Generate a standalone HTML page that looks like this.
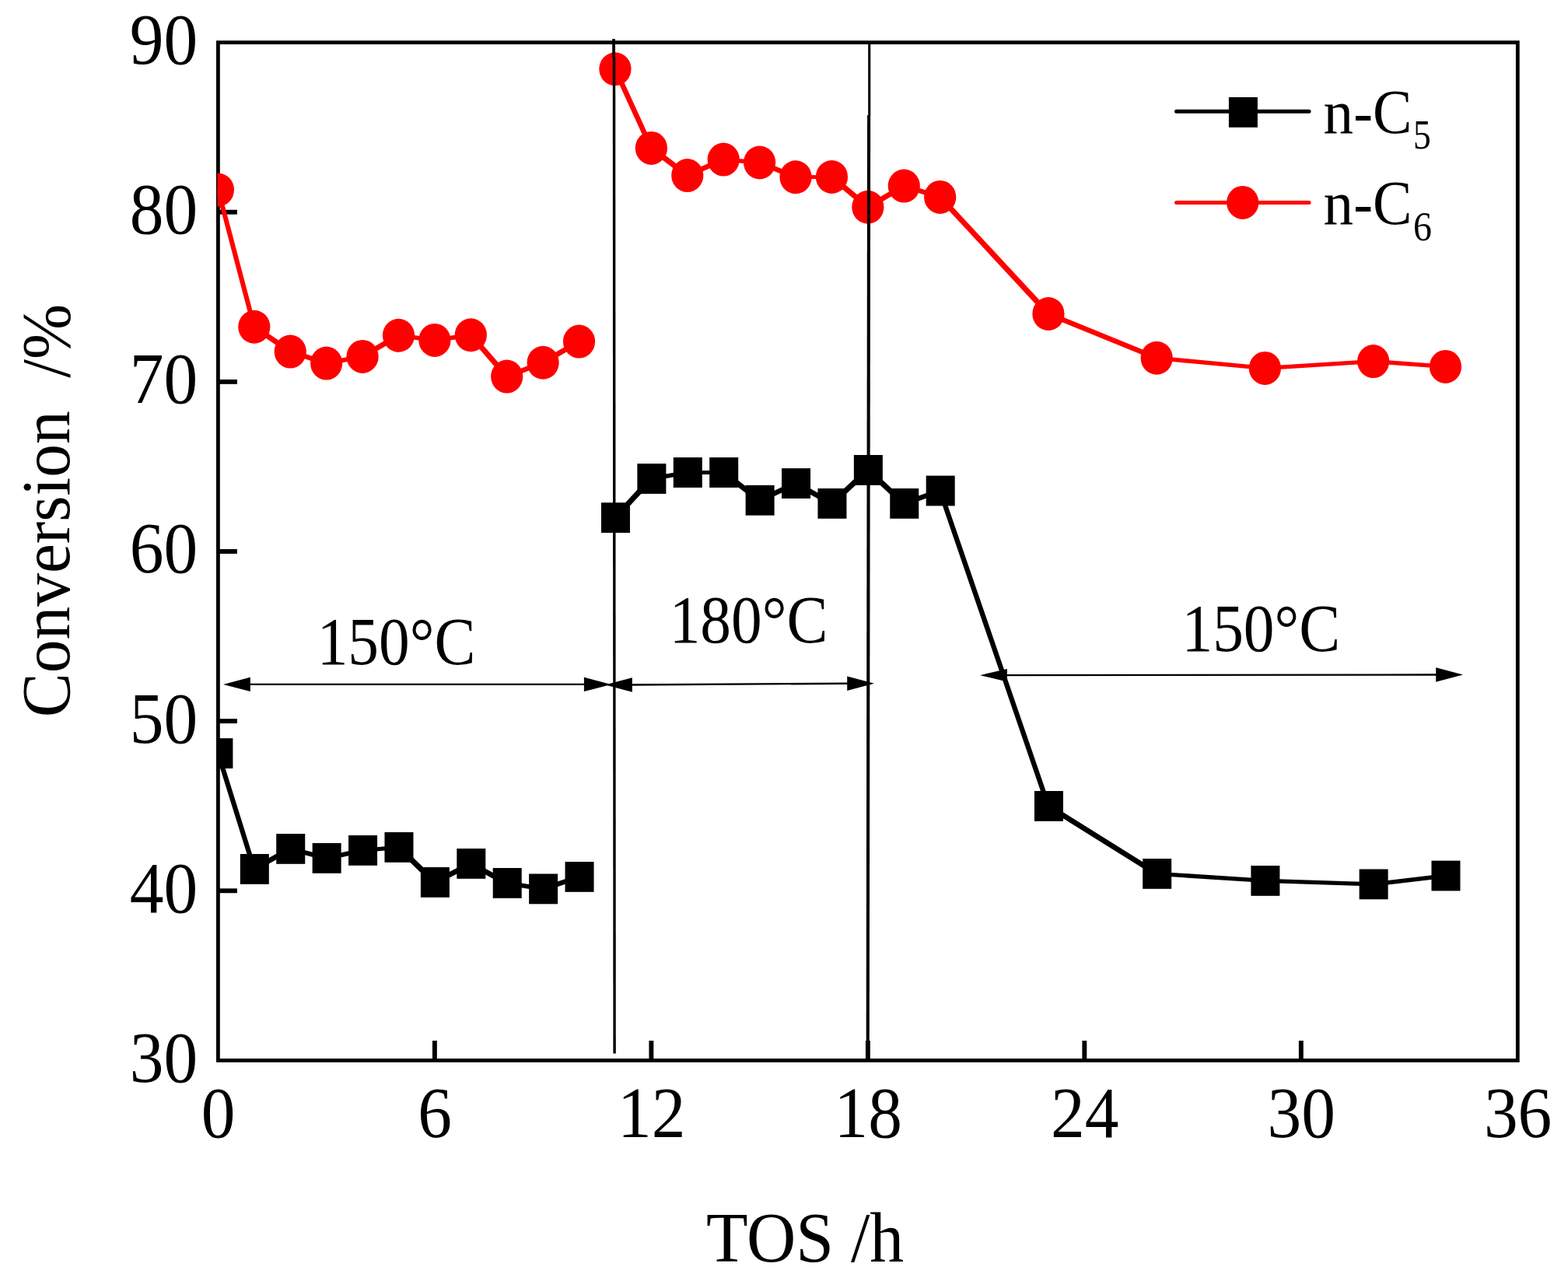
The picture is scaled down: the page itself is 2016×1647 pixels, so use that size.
<!DOCTYPE html>
<html lang="en"><head><meta charset="utf-8"><title>Conversion vs TOS</title>
<style>html,body{margin:0;padding:0;background:#fff;}body{width:2016px;height:1647px;overflow:hidden;}svg{display:block;}text{font-family:"Liberation Serif",serif;fill:#000;white-space:pre;}</style></head><body>
<svg width="2016" height="1647" viewBox="0 0 2016 1647">
<rect x="0" y="0" width="2016" height="1647" fill="#ffffff"/>
<defs><clipPath id="pc"><rect x="279.5" y="50" width="1675" height="1316"/></clipPath></defs>
<rect x="280.4" y="54.6" width="1670.90" height="1308.80" fill="none" stroke="#000" stroke-width="4.8"/>
<line x1="558.88" y1="1363.4" x2="558.88" y2="1338.00" stroke="#000" stroke-width="5.9"/>
<line x1="837.37" y1="1363.4" x2="837.37" y2="1338.00" stroke="#000" stroke-width="5.9"/>
<line x1="1115.85" y1="1363.4" x2="1115.85" y2="1338.00" stroke="#000" stroke-width="5.9"/>
<line x1="1394.33" y1="1363.4" x2="1394.33" y2="1338.00" stroke="#000" stroke-width="5.9"/>
<line x1="1672.82" y1="1363.4" x2="1672.82" y2="1338.00" stroke="#000" stroke-width="5.9"/>
<line x1="280.4" y1="1145.27" x2="304.90" y2="1145.27" stroke="#000" stroke-width="5.9"/>
<line x1="280.4" y1="927.13" x2="304.90" y2="927.13" stroke="#000" stroke-width="5.9"/>
<line x1="280.4" y1="709.00" x2="304.90" y2="709.00" stroke="#000" stroke-width="5.9"/>
<line x1="280.4" y1="490.87" x2="304.90" y2="490.87" stroke="#000" stroke-width="5.9"/>
<line x1="280.4" y1="272.73" x2="304.90" y2="272.73" stroke="#000" stroke-width="5.9"/>
<g clip-path="url(#pc)">
<line x1="280.40" y1="968.60" x2="326.81" y2="1117.40" stroke="#000" stroke-width="6.26" stroke-linecap="round"/>
<line x1="326.81" y1="1117.40" x2="373.23" y2="1091.40" stroke="#000" stroke-width="6.81" stroke-linecap="round"/>
<line x1="373.23" y1="1091.40" x2="419.64" y2="1103.40" stroke="#000" stroke-width="6.09" stroke-linecap="round"/>
<line x1="419.64" y1="1103.40" x2="466.06" y2="1093.40" stroke="#000" stroke-width="5.94" stroke-linecap="round"/>
<line x1="466.06" y1="1093.40" x2="512.47" y2="1089.40" stroke="#000" stroke-width="5.41" stroke-linecap="round"/>
<line x1="512.47" y1="1089.40" x2="558.88" y2="1134.40" stroke="#000" stroke-width="7.07" stroke-linecap="round"/>
<line x1="558.88" y1="1134.40" x2="605.30" y2="1110.40" stroke="#000" stroke-width="6.74" stroke-linecap="round"/>
<line x1="605.30" y1="1110.40" x2="651.71" y2="1135.40" stroke="#000" stroke-width="6.77" stroke-linecap="round"/>
<line x1="651.71" y1="1135.40" x2="698.12" y2="1142.90" stroke="#000" stroke-width="5.73" stroke-linecap="round"/>
<line x1="698.12" y1="1142.90" x2="744.54" y2="1127.40" stroke="#000" stroke-width="6.33" stroke-linecap="round"/>
<rect x="262.40" y="949.20" width="37.0" height="38.8" fill="#000"/>
<rect x="308.81" y="1098.00" width="37.0" height="38.8" fill="#000"/>
<rect x="355.23" y="1072.00" width="37.0" height="38.8" fill="#000"/>
<rect x="401.64" y="1084.00" width="37.0" height="38.8" fill="#000"/>
<rect x="448.06" y="1074.00" width="37.0" height="38.8" fill="#000"/>
<rect x="494.47" y="1070.00" width="37.0" height="38.8" fill="#000"/>
<rect x="540.88" y="1115.00" width="37.0" height="38.8" fill="#000"/>
<rect x="587.30" y="1091.00" width="37.0" height="38.8" fill="#000"/>
<rect x="633.71" y="1116.00" width="37.0" height="38.8" fill="#000"/>
<rect x="680.12" y="1123.50" width="37.0" height="38.8" fill="#000"/>
<rect x="726.54" y="1108.00" width="37.0" height="38.8" fill="#000"/>
<line x1="790.95" y1="665.60" x2="837.37" y2="615.50" stroke="#000" stroke-width="7.07" stroke-linecap="round"/>
<line x1="837.37" y1="615.50" x2="883.78" y2="607.50" stroke="#000" stroke-width="5.78" stroke-linecap="round"/>
<line x1="883.78" y1="607.50" x2="930.19" y2="607.50" stroke="#000" stroke-width="5.00" stroke-linecap="round"/>
<line x1="930.19" y1="607.50" x2="976.61" y2="643.25" stroke="#000" stroke-width="7.01" stroke-linecap="round"/>
<line x1="976.61" y1="643.25" x2="1023.02" y2="621.50" stroke="#000" stroke-width="6.65" stroke-linecap="round"/>
<line x1="1023.02" y1="621.50" x2="1069.44" y2="647.40" stroke="#000" stroke-width="6.80" stroke-linecap="round"/>
<line x1="1069.44" y1="647.40" x2="1115.85" y2="604.40" stroke="#000" stroke-width="7.07" stroke-linecap="round"/>
<line x1="1115.85" y1="604.40" x2="1162.26" y2="647.40" stroke="#000" stroke-width="7.07" stroke-linecap="round"/>
<line x1="1162.26" y1="647.40" x2="1208.68" y2="631.00" stroke="#000" stroke-width="6.38" stroke-linecap="round"/>
<line x1="1208.68" y1="631.00" x2="1347.92" y2="1036.40" stroke="#000" stroke-width="6.35" stroke-linecap="round"/>
<line x1="1347.92" y1="1036.40" x2="1487.16" y2="1123.40" stroke="#000" stroke-width="6.89" stroke-linecap="round"/>
<line x1="1487.16" y1="1123.40" x2="1626.40" y2="1132.40" stroke="#000" stroke-width="5.31" stroke-linecap="round"/>
<line x1="1626.40" y1="1132.40" x2="1765.64" y2="1136.90" stroke="#000" stroke-width="5.16" stroke-linecap="round"/>
<line x1="1765.64" y1="1136.90" x2="1858.47" y2="1126.00" stroke="#000" stroke-width="5.55" stroke-linecap="round"/>
<rect x="772.95" y="646.20" width="37.0" height="38.8" fill="#000"/>
<rect x="819.37" y="596.10" width="37.0" height="38.8" fill="#000"/>
<rect x="865.78" y="588.10" width="37.0" height="38.8" fill="#000"/>
<rect x="912.19" y="588.10" width="37.0" height="38.8" fill="#000"/>
<rect x="958.61" y="623.85" width="37.0" height="38.8" fill="#000"/>
<rect x="1005.02" y="602.10" width="37.0" height="38.8" fill="#000"/>
<rect x="1051.44" y="628.00" width="37.0" height="38.8" fill="#000"/>
<rect x="1097.85" y="585.00" width="37.0" height="38.8" fill="#000"/>
<rect x="1144.26" y="628.00" width="37.0" height="38.8" fill="#000"/>
<rect x="1190.68" y="611.60" width="37.0" height="38.8" fill="#000"/>
<rect x="1329.92" y="1017.00" width="37.0" height="38.8" fill="#000"/>
<rect x="1469.16" y="1104.00" width="37.0" height="38.8" fill="#000"/>
<rect x="1608.40" y="1113.00" width="37.0" height="38.8" fill="#000"/>
<rect x="1747.64" y="1117.50" width="37.0" height="38.8" fill="#000"/>
<rect x="1840.47" y="1106.60" width="37.0" height="38.8" fill="#000"/>
<line x1="280.40" y1="244.00" x2="326.81" y2="420.25" stroke="#f00" stroke-width="6.11" stroke-linecap="round"/>
<line x1="326.81" y1="420.25" x2="373.23" y2="452.10" stroke="#f00" stroke-width="6.95" stroke-linecap="round"/>
<line x1="373.23" y1="452.10" x2="419.64" y2="467.10" stroke="#f00" stroke-width="6.30" stroke-linecap="round"/>
<line x1="419.64" y1="467.10" x2="466.06" y2="458.40" stroke="#f00" stroke-width="5.84" stroke-linecap="round"/>
<line x1="466.06" y1="458.40" x2="512.47" y2="431.25" stroke="#f00" stroke-width="6.84" stroke-linecap="round"/>
<line x1="512.47" y1="431.25" x2="558.88" y2="437.40" stroke="#f00" stroke-width="5.61" stroke-linecap="round"/>
<line x1="558.88" y1="437.40" x2="605.30" y2="430.75" stroke="#f00" stroke-width="5.66" stroke-linecap="round"/>
<line x1="605.30" y1="430.75" x2="651.71" y2="484.10" stroke="#f00" stroke-width="7.05" stroke-linecap="round"/>
<line x1="651.71" y1="484.10" x2="698.12" y2="466.25" stroke="#f00" stroke-width="6.46" stroke-linecap="round"/>
<line x1="698.12" y1="466.25" x2="744.54" y2="439.10" stroke="#f00" stroke-width="6.84" stroke-linecap="round"/>
<ellipse cx="280.40" cy="244.00" rx="20.6" ry="21.5" fill="#f00"/>
<ellipse cx="326.81" cy="420.25" rx="20.6" ry="21.5" fill="#f00"/>
<ellipse cx="373.23" cy="452.10" rx="20.6" ry="21.5" fill="#f00"/>
<ellipse cx="419.64" cy="467.10" rx="20.6" ry="21.5" fill="#f00"/>
<ellipse cx="466.06" cy="458.40" rx="20.6" ry="21.5" fill="#f00"/>
<ellipse cx="512.47" cy="431.25" rx="20.6" ry="21.5" fill="#f00"/>
<ellipse cx="558.88" cy="437.40" rx="20.6" ry="21.5" fill="#f00"/>
<ellipse cx="605.30" cy="430.75" rx="20.6" ry="21.5" fill="#f00"/>
<ellipse cx="651.71" cy="484.10" rx="20.6" ry="21.5" fill="#f00"/>
<ellipse cx="698.12" cy="466.25" rx="20.6" ry="21.5" fill="#f00"/>
<ellipse cx="744.54" cy="439.10" rx="20.6" ry="21.5" fill="#f00"/>
<line x1="790.95" y1="88.75" x2="837.37" y2="190.40" stroke="#f00" stroke-width="6.63" stroke-linecap="round"/>
<line x1="837.37" y1="190.40" x2="883.78" y2="225.60" stroke="#f00" stroke-width="7.01" stroke-linecap="round"/>
<line x1="883.78" y1="225.60" x2="930.19" y2="205.10" stroke="#f00" stroke-width="6.59" stroke-linecap="round"/>
<line x1="930.19" y1="205.10" x2="976.61" y2="209.00" stroke="#f00" stroke-width="5.40" stroke-linecap="round"/>
<line x1="976.61" y1="209.00" x2="1023.02" y2="227.75" stroke="#f00" stroke-width="6.51" stroke-linecap="round"/>
<line x1="1023.02" y1="227.75" x2="1069.44" y2="227.50" stroke="#f00" stroke-width="5.03" stroke-linecap="round"/>
<line x1="1069.44" y1="227.50" x2="1115.85" y2="266.25" stroke="#f00" stroke-width="7.04" stroke-linecap="round"/>
<line x1="1115.85" y1="266.25" x2="1162.26" y2="239.10" stroke="#f00" stroke-width="6.84" stroke-linecap="round"/>
<line x1="1162.26" y1="239.10" x2="1208.68" y2="253.40" stroke="#f00" stroke-width="6.25" stroke-linecap="round"/>
<line x1="1208.68" y1="253.40" x2="1347.92" y2="403.50" stroke="#f00" stroke-width="7.07" stroke-linecap="round"/>
<line x1="1347.92" y1="403.50" x2="1487.16" y2="460.25" stroke="#f00" stroke-width="6.52" stroke-linecap="round"/>
<line x1="1487.16" y1="460.25" x2="1626.40" y2="473.40" stroke="#f00" stroke-width="5.45" stroke-linecap="round"/>
<line x1="1626.40" y1="473.40" x2="1765.64" y2="464.60" stroke="#f00" stroke-width="5.31" stroke-linecap="round"/>
<line x1="1765.64" y1="464.60" x2="1858.47" y2="471.40" stroke="#f00" stroke-width="5.35" stroke-linecap="round"/>
<ellipse cx="790.95" cy="88.75" rx="20.6" ry="21.5" fill="#f00"/>
<ellipse cx="837.37" cy="190.40" rx="20.6" ry="21.5" fill="#f00"/>
<ellipse cx="883.78" cy="225.60" rx="20.6" ry="21.5" fill="#f00"/>
<ellipse cx="930.19" cy="205.10" rx="20.6" ry="21.5" fill="#f00"/>
<ellipse cx="976.61" cy="209.00" rx="20.6" ry="21.5" fill="#f00"/>
<ellipse cx="1023.02" cy="227.75" rx="20.6" ry="21.5" fill="#f00"/>
<ellipse cx="1069.44" cy="227.50" rx="20.6" ry="21.5" fill="#f00"/>
<ellipse cx="1115.85" cy="266.25" rx="20.6" ry="21.5" fill="#f00"/>
<ellipse cx="1162.26" cy="239.10" rx="20.6" ry="21.5" fill="#f00"/>
<ellipse cx="1208.68" cy="253.40" rx="20.6" ry="21.5" fill="#f00"/>
<ellipse cx="1347.92" cy="403.50" rx="20.6" ry="21.5" fill="#f00"/>
<ellipse cx="1487.16" cy="460.25" rx="20.6" ry="21.5" fill="#f00"/>
<ellipse cx="1626.40" cy="473.40" rx="20.6" ry="21.5" fill="#f00"/>
<ellipse cx="1765.64" cy="464.60" rx="20.6" ry="21.5" fill="#f00"/>
<ellipse cx="1858.47" cy="471.40" rx="20.6" ry="21.5" fill="#f00"/>
</g>
<line x1="789.1" y1="50" x2="789.1" y2="74" stroke="#000" stroke-width="3.8"/>
<line x1="789.5" y1="73" x2="790.1" y2="1354.5" stroke="#000" stroke-width="3.4"/>
<line x1="1117.7" y1="57" x2="1117.7" y2="148.5" stroke="#000" stroke-width="3.1"/>
<line x1="1117.1" y1="148" x2="1115.7" y2="1361" stroke="#000" stroke-width="4.1"/>
<line x1="319.8" y1="879.9" x2="752.9000000000001" y2="879.9" stroke="#000" stroke-width="2.1"/>
<polygon points="287,879.9 321.8,870.6999999999999 321.8,889.1" fill="#000"/>
<polygon points="785.7,879.9 750.9000000000001,870.6999999999999 750.9000000000001,889.1" fill="#000"/>
<line x1="810.8" y1="880.5" x2="1091.2" y2="878.7" stroke="#000" stroke-width="2.4"/>
<polygon points="778,880.5 812.8,871.3 812.8,889.7" fill="#000"/>
<polygon points="1124,878.7 1089.2,869.5 1089.2,887.9000000000001" fill="#000"/>
<line x1="1292.8" y1="868.2" x2="1848.2" y2="867.5" stroke="#000" stroke-width="2.3"/>
<polygon points="1260,868.2 1294.8,859.9000000000001 1294.8,876.5" fill="#000"/>
<polygon points="1881,867.5 1846.2,858.3 1846.2,876.7" fill="#000"/>
<line x1="1512.5" y1="143.3" x2="1683" y2="143.3" stroke="#000" stroke-width="5.0" stroke-linecap="round"/>
<rect x="1579.90" y="125.00" width="37.0" height="38.8" fill="#000"/>
<line x1="1512.5" y1="260.4" x2="1683" y2="260.4" stroke="#f00" stroke-width="5.0" stroke-linecap="round"/>
<ellipse cx="1597.7" cy="260.4" rx="20.6" ry="21.5" fill="#f00"/>
<text transform="translate(254.10,1390.80) scale(0.9500,1.0150)" font-size="92" text-anchor="end">30</text>
<text transform="translate(254.10,1172.67) scale(0.9500,1.0150)" font-size="92" text-anchor="end">40</text>
<text transform="translate(254.10,954.53) scale(0.9500,1.0150)" font-size="92" text-anchor="end">50</text>
<text transform="translate(254.10,736.40) scale(0.9500,1.0150)" font-size="92" text-anchor="end">60</text>
<text transform="translate(254.10,518.27) scale(0.9500,1.0150)" font-size="92" text-anchor="end">70</text>
<text transform="translate(254.10,300.13) scale(0.9500,1.0150)" font-size="92" text-anchor="end">80</text>
<text transform="translate(254.10,82.00) scale(0.9500,1.0150)" font-size="92" text-anchor="end">90</text>
<text transform="translate(280.70,1462.40) scale(0.9500,1.0150)" font-size="92" text-anchor="middle">0</text>
<text transform="translate(559.18,1462.40) scale(0.9500,1.0150)" font-size="92" text-anchor="middle">6</text>
<text transform="translate(837.67,1462.40) scale(0.9500,1.0150)" font-size="92" text-anchor="middle">12</text>
<text transform="translate(1116.15,1462.40) scale(0.9500,1.0150)" font-size="92" text-anchor="middle">18</text>
<text transform="translate(1394.63,1462.40) scale(0.9500,1.0150)" font-size="92" text-anchor="middle">24</text>
<text transform="translate(1673.12,1462.40) scale(0.9500,1.0150)" font-size="92" text-anchor="middle">30</text>
<text transform="translate(1951.60,1462.40) scale(0.9500,1.0150)" font-size="92" text-anchor="middle">36</text>
<text transform="translate(1035.00,1622.30) scale(0.9530,1.0000)" font-size="92" text-anchor="middle">TOS /h</text>
<text transform="translate(89.20,656.50) rotate(-90) scale(0.9285,0.9750)" font-size="92" text-anchor="middle">Conversion  /%</text>
<text transform="translate(509.50,854.00) scale(0.9280,1.0250)" font-size="85.5" text-anchor="middle">150°C</text>
<text transform="translate(962.50,826.00) scale(0.9280,1.0250)" font-size="85.5" text-anchor="middle">180°C</text>
<text transform="translate(1621.30,837.00) scale(0.9280,1.0250)" font-size="85.5" text-anchor="middle">150°C</text>
<text transform="translate(1701.60,170.90) scale(0.9400,0.9750)" font-size="82" text-anchor="start">n<tspan textLength="26.35" lengthAdjust="spacingAndGlyphs">-</tspan><tspan textLength="53.60" lengthAdjust="spacingAndGlyphs">C</tspan><tspan font-size="55" dx="1.7" dy="20.8" textLength="24.20" lengthAdjust="spacingAndGlyphs">5</tspan></text>
<text transform="translate(1701.60,287.90) scale(0.9400,0.9750)" font-size="82" text-anchor="start">n<tspan textLength="26.35" lengthAdjust="spacingAndGlyphs">-</tspan><tspan textLength="53.60" lengthAdjust="spacingAndGlyphs">C</tspan><tspan font-size="55" dx="1.7" dy="21.6" textLength="25.49" lengthAdjust="spacingAndGlyphs">6</tspan></text>
</svg></body></html>
